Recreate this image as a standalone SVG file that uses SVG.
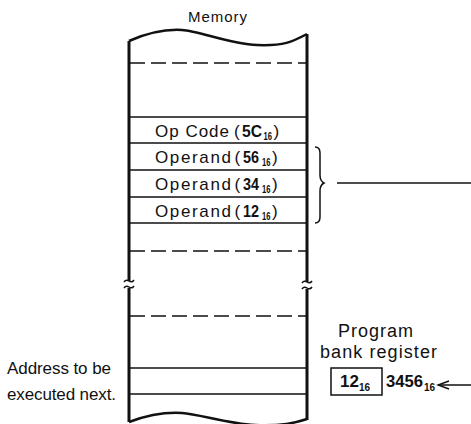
<svg xmlns="http://www.w3.org/2000/svg" width="471" height="424" viewBox="0 0 471 424">
<style>
text{font-family:"Liberation Sans",Arial,sans-serif;fill:#111;}
.t{font-size:17px;}
.b{font-weight:bold;}
.s{font-size:10px;font-weight:bold;}
.edge{stroke:#111;stroke-width:3;fill:none;}
.wave{stroke:#111;stroke-width:2.5;fill:none;}
.sol{stroke:#111;stroke-width:1.5;fill:none;}
.dash{stroke:#111;stroke-width:1.5;fill:none;stroke-dasharray:15 6;}
</style>
<defs>
<marker id="ah" markerWidth="14" markerHeight="10" refX="12" refY="5" orient="auto" markerUnits="userSpaceOnUse">
<path d="M1,1 L12,5 L1,9" fill="none" stroke="#111" stroke-width="1.5"/>
</marker>
</defs>
<rect width="471" height="424" fill="#fff"/>
<g id="memory">
<text x="188" y="22" font-size="15" textLength="59" lengthAdjust="spacing">Memory</text>
<path class="wave" d="M129,41 C145,34 165,29 182,30 S230,44 257,45 S292,42 307,34"/>
<path class="wave" d="M129,422 C145,416 165,412 182,413 S228,424 255,425 S295,423 307,419"/>
<path class="edge" d="M129,41 V281 M129,288 V422"/>
<path class="edge" d="M307,34 V282 M307,289 V420"/>
<path class="sol" d="M124,282 q2,-3 5,-1 q3,2 5,-1 M124,288 q2,-3 5,-1 q3,2 5,-1"/>
<path class="sol" d="M302,283 q2,-3 5,-1 q3,2 5,-1 M302,289 q2,-3 5,-1 q3,2 5,-1"/>
<line class="dash" x1="130" y1="63" x2="306" y2="63"/>
<line class="sol" x1="130" y1="117" x2="306" y2="117"/>
<line class="sol" x1="130" y1="143" x2="306" y2="143"/>
<line class="sol" x1="130" y1="170" x2="306" y2="170"/>
<line class="sol" x1="130" y1="197" x2="306" y2="197"/>
<line class="sol" x1="130" y1="223" x2="306" y2="223"/>
<line class="dash" x1="130" y1="251" x2="306" y2="251"/>
<line class="dash" x1="130" y1="316" x2="306" y2="316"/>
<line class="sol" x1="130" y1="368" x2="306" y2="368"/>
<line class="sol" x1="130" y1="394" x2="306" y2="394"/>
</g>
<g id="row-opcode">
<text class="t" x="155" y="137" textLength="74" lengthAdjust="spacing">Op Code</text>
<text class="t" x="234" y="137">(</text>
<text class="t b" x="242" y="137" textLength="20" lengthAdjust="spacingAndGlyphs">5C</text>
<text class="s" x="263.5" y="140" textLength="8.5" lengthAdjust="spacingAndGlyphs">16</text>
<text class="t" x="273.5" y="137">)</text>
</g>
<g id="row-56">
<text class="t" x="155" y="163" textLength="76" lengthAdjust="spacing">Operand</text>
<text class="t" x="234.5" y="163">(</text>
<text class="t b" x="243" y="163" textLength="16" lengthAdjust="spacingAndGlyphs">56</text>
<text class="s" x="262" y="166" textLength="8.5" lengthAdjust="spacingAndGlyphs">16</text>
<text class="t" x="272" y="163">)</text>
</g>
<g id="row-34">
<text class="t" x="155" y="190" textLength="76" lengthAdjust="spacing">Operand</text>
<text class="t" x="234.5" y="190">(</text>
<text class="t b" x="243" y="190" textLength="16" lengthAdjust="spacingAndGlyphs">34</text>
<text class="s" x="262" y="193" textLength="8.5" lengthAdjust="spacingAndGlyphs">16</text>
<text class="t" x="272" y="190">)</text>
</g>
<g id="row-12">
<text class="t" x="155" y="217" textLength="76" lengthAdjust="spacing">Operand</text>
<text class="t" x="234.5" y="217">(</text>
<text class="t b" x="243" y="217" textLength="16" lengthAdjust="spacingAndGlyphs">12</text>
<text class="s" x="262" y="220" textLength="8.5" lengthAdjust="spacingAndGlyphs">16</text>
<text class="t" x="272" y="217">)</text>
</g>
<g id="address-label">
<text class="t" x="7" y="374" textLength="104" lengthAdjust="spacing">Address to be</text>
<text class="t" x="7" y="400" textLength="109" lengthAdjust="spacing">executed next.</text>
</g>
<g id="program-bank-register">
<text x="338" y="337" font-size="18" textLength="75" lengthAdjust="spacing">Program</text>
<text x="320" y="358" font-size="18" textLength="117" lengthAdjust="spacing">bank register</text>
<rect x="331" y="368" width="51" height="27" fill="none" stroke="#111" stroke-width="1.5"/>
<text class="t b" x="340" y="387">12</text>
<text class="s" x="359" y="391">16</text>
<text class="t b" x="386" y="387" textLength="37" lengthAdjust="spacingAndGlyphs">3456</text>
<text class="s" x="424" y="391">16</text>
</g>
<g id="connectors">
<path class="sol" d="M315,147 q5,0 5,6 v22 q0,6 4,8 q-4,2 -4,8 v26 q0,6 -5,6"/>
<line class="sol" x1="337" y1="183" x2="471" y2="183"/>
<line class="sol" x1="471" y1="385" x2="438" y2="385" marker-end="url(#ah)"/>
</g>
</svg>
